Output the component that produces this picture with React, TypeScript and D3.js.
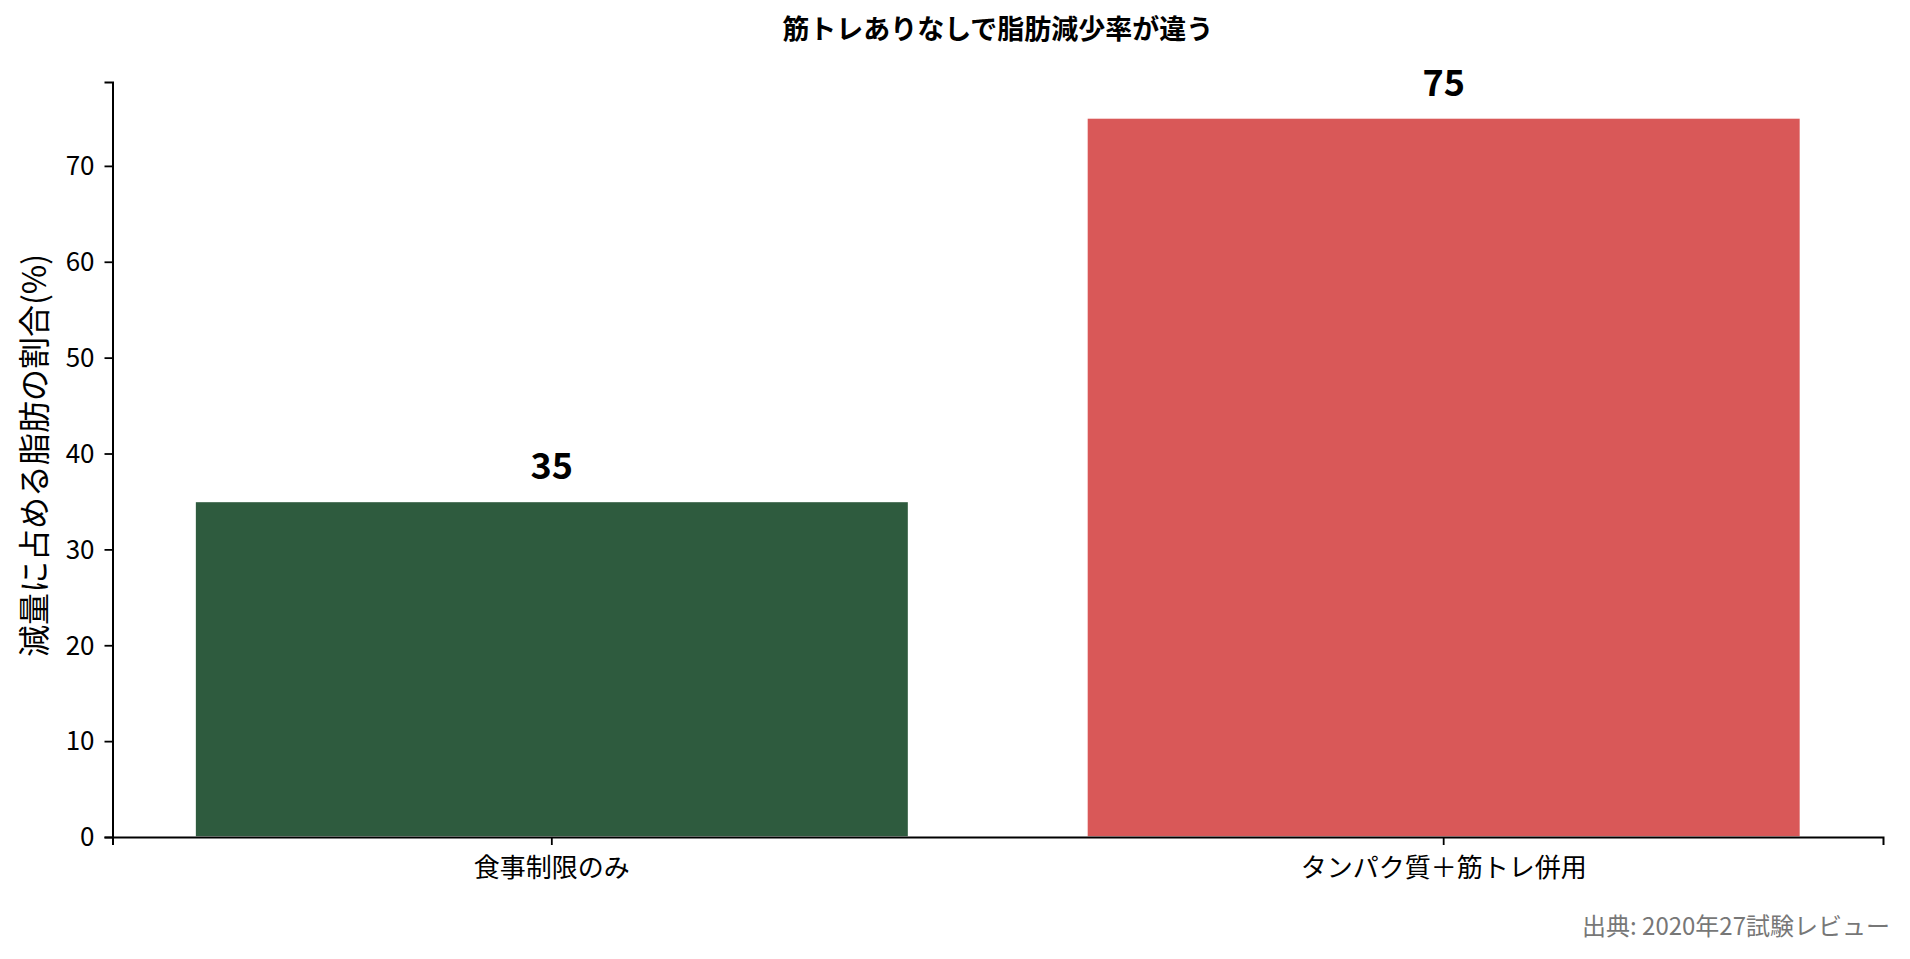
import { useEffect, useRef } from 'react';
import * as d3 from 'd3';

const categories = ['食事制限のみ', 'タンパク質＋筋トレ併用'];
const values = [35, 75];
const barColors = ['#2e5b3e', '#d95858'];
const yTicks = [0, 10, 20, 30, 40, 50, 60, 70];

const title = '筋トレありなしで脂肪減少率が違う';
const yLabel = '減量に占める脂肪の割合(%)';
const source = '出典: 2020年27試験レビュー';

const W = 1910;
const H = 959;
const margin = { top: 82, right: 27, bottom: 122, left: 112.5 };
const FONT = '"Noto Sans CJK JP", "Noto Sans", sans-serif';

const App = () => {
  const xAxisRef = useRef<SVGGElement>(null);
  const yAxisRef = useRef<SVGGElement>(null);

  const innerW = W - margin.left - margin.right;
  const innerH = H - margin.top - margin.bottom;

  const x = d3
    .scaleBand<string>()
    .domain(categories)
    .range([0, innerW])
    .paddingInner(0.2)
    .paddingOuter(0.0926);

  const y = d3
    .scaleLinear()
    .domain([0, d3.max(values)! * 1.05])
    .range([innerH, 0]);

  useEffect(() => {
    document.body.style.margin = '0';
  }, []);

  // axes
  useEffect(() => {
    if (!xAxisRef.current || !yAxisRef.current) return;

    const gx = d3.select(xAxisRef.current);
    gx.selectAll('*').remove();
    gx.call(d3.axisBottom(x).tickSizeOuter(0).tickSize(8).tickPadding(12));

    const gy = d3.select(yAxisRef.current);
    gy.selectAll('*').remove();
    gy.call(
      d3
        .axisLeft(y)
        .tickValues(yTicks)
        .tickFormat(d3.format('d'))
        .tickSizeOuter(0)
        .tickSize(8)
        .tickPadding(10)
    );

    [gx, gy].forEach((g) => {
      g.select('.domain').attr('stroke', '#000').attr('stroke-width', 2);
      g.selectAll('.tick line').attr('stroke', '#000').attr('stroke-width', 1.8);
      g.selectAll('.tick text')
        .attr('fill', '#000')
        .style('font-family', FONT)
        .style('font-size', '26px');
    });
    gy.selectAll('.tick text').attr('dy', '0.34em');
    gx.selectAll('.tick text').attr('dy', '0.78em');
  }, []);

  return (
    <svg width={W} height={H} style={{ display: 'block', background: '#fff' }}>
      <text
        x={margin.left + innerW / 2}
        y={39}
        textAnchor='middle'
        fontFamily={FONT}
        fontSize={27}
        fontWeight={700}
        fill='#000'
      >
        {title}
      </text>

      <g transform={`translate(${margin.left},${margin.top})`}>
        {categories.map((c, i) => (
          <g key={c}>
            <rect
              x={x(c)}
              y={y(values[i])}
              width={x.bandwidth()}
              height={y(0) - y(values[i])}
              fill={barColors[i]}
              stroke='#fff'
              strokeWidth={1.5}
            />
            <text
              x={x(c)! + x.bandwidth() / 2}
              y={y(values[i]) - 22}
              textAnchor='middle'
              fontFamily={FONT}
              fontSize={36}
              fontWeight={700}
              fill='#000'
            >
              {values[i]}
            </text>
          </g>
        ))}

        <g ref={xAxisRef} transform={`translate(0,${innerH})`} />
        <g ref={yAxisRef} />
      </g>

      <text
        transform={`translate(46,${margin.top + innerH / 2 - 4}) rotate(-90)`}
        textAnchor='middle'
        fontFamily={FONT}
        fontSize={32}
        fill='#000'
      >
        {yLabel}
      </text>

      <text
        x={1890}
        y={935}
        textAnchor='end'
        fontFamily={FONT}
        fontSize={24}
        fill='#777'
      >
        {source}
      </text>
    </svg>
  );
};

export default App;
